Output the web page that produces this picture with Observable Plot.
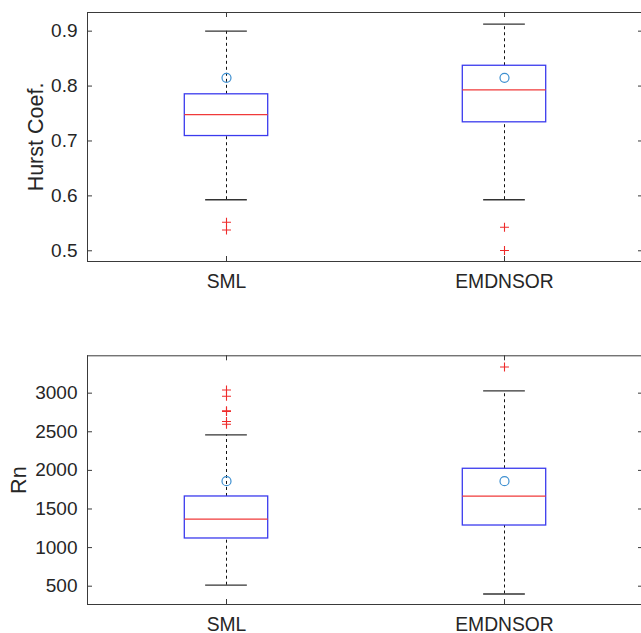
<!DOCTYPE html>
<html>
<head>
<meta charset="utf-8">
<script src="https://cdn.jsdelivr.net/npm/d3@7"></script>
<script src="https://cdn.jsdelivr.net/npm/@observablehq/plot@0.6"></script>
<style>
  html, body { margin: 0; padding: 0; background: #fff; overflow: hidden; }
  #chart { width: 641px; height: 633px; overflow: hidden; }
  #chart svg { display: block; overflow: hidden; }
</style>
</head>
<body>
<div id="chart"></div>
<script>
// ---- data ----
const categories = ["SML", "EMDNSOR"];
const positions = [1, 2];

// Hurst coefficient boxplot statistics
const hurstLowerWhisker = [0.593, 0.593];
const hurstQ1 = [0.709, 0.734];
const hurstMedian = [0.748, 0.793];
const hurstQ3 = [0.785, 0.837];
const hurstUpperWhisker = [0.900, 0.913];
const hurstMean = [0.815, 0.815];
const hurstOutliersSML = [0.552, 0.538];
const hurstOutliersEMDNSOR = [0.543, 0.5005];
const hurstTicks = [0.5, 0.6, 0.7, 0.8, 0.9];
const hurstLimits = [0.4805, 0.934];

// Rn boxplot statistics
const rnLowerWhisker = [513, 399];
const rnQ1 = [1118, 1286];
const rnMedian = [1368, 1666];
const rnQ3 = [1662, 2021];
const rnUpperWhisker = [2461, 3031];
const rnMean = [1860, 1860];
const rnOutliersSML = [3041, 2960, 2772, 2762, 2633, 2598];
const rnOutliersEMDNSOR = [3338];
const rnTicks = [500, 1000, 1500, 2000, 2500, 3000];
const rnLimits = [263, 3484];

// ---- drawing ----
const FONT = "'Liberation Sans', Arial, Helvetica, sans-serif";
const TEXT = "#262626";
const AXIS = "#3a3a3a";
const X_DOMAIN = [0.5, 2.5];
const X_RANGE = [87, 643];
const BOX_HALF = 0.15;
const CAP_HALF = 0.075;
const TICK_PX = 5;

function panel(o) {
  const rows = positions.map((p, i) => ({
    pos: p, cat: categories[i],
    lo: o.lo[i], q1: o.q1[i], med: o.med[i], q3: o.q3[i], hi: o.hi[i], mean: o.mean[i]
  }));
  const outs = [];
  o.outliers.forEach((arr, i) => arr.forEach(v => outs.push({pos: positions[i], v})));
  const innerH = o.height - o.marginTop - o.marginBottom;
  const xPerPx = (X_DOMAIN[1] - X_DOMAIN[0]) / (X_RANGE[1] - X_RANGE[0]);
  const yPerPx = (o.limits[1] - o.limits[0]) / innerH;
  const tx = TICK_PX * xPerPx, ty = TICK_PX * yPerPx;
  const [y0, y1] = o.limits;

  return Plot.plot({
    width: 641,
    height: o.height,
    marginTop: o.marginTop,
    marginBottom: o.marginBottom,
    marginLeft: 87,
    marginRight: 0,
    style: {fontFamily: FONT, fontSize: "19px", color: TEXT, background: "white"},
    x: {domain: X_DOMAIN, range: X_RANGE, axis: null},
    y: {domain: o.limits, axis: null},
    marks: [
      Plot.ruleY([y0, y1], {x1: X_DOMAIN[0], x2: X_DOMAIN[1], stroke: AXIS, strokeWidth: 1}),
      Plot.ruleX(X_DOMAIN, {y1: y0, y2: y1, stroke: AXIS, strokeWidth: 1}),
      Plot.ruleY(o.ticks, {x1: X_DOMAIN[0], x2: X_DOMAIN[0] + tx, stroke: AXIS}),
      Plot.ruleY(o.ticks, {x1: X_DOMAIN[1] - tx, x2: X_DOMAIN[1], stroke: AXIS}),
      Plot.ruleX(positions, {y1: y0, y2: y0 + ty, stroke: AXIS}),
      Plot.ruleX(positions, {y1: y1 - ty, y2: y1, stroke: AXIS}),
      Plot.text(o.ticks, {y: d => d, frameAnchor: "left", textAnchor: "end", dx: -10,
        text: o.fmt, fill: TEXT, fontSize: 19, lineAnchor: "middle"}),
      Plot.text(rows, {x: "pos", frameAnchor: "bottom", text: "cat", dy: 20.5,
        lineAnchor: "middle", fill: TEXT, fontSize: 19.3}),
      Plot.text([o.label], {frameAnchor: "left", rotate: -90, dx: o.labelDx,
        lineAnchor: "bottom", textAnchor: "middle", fill: TEXT, fontSize: 21.5}),
      Plot.ruleX(rows, {x: "pos", y1: "q3", y2: "hi", stroke: "#111", strokeDasharray: "3,3", strokeWidth: 1}),
      Plot.ruleX(rows, {x: "pos", y1: "lo", y2: "q1", stroke: "#111", strokeDasharray: "3,3", strokeWidth: 1}),
      Plot.ruleY(rows, {y: "hi", x1: d => d.pos - CAP_HALF, x2: d => d.pos + CAP_HALF, stroke: "#333", strokeWidth: 1.3}),
      Plot.ruleY(rows, {y: "lo", x1: d => d.pos - CAP_HALF, x2: d => d.pos + CAP_HALF, stroke: "#333", strokeWidth: 1.3}),
      Plot.rect(rows, {x1: d => d.pos - BOX_HALF, x2: d => d.pos + BOX_HALF, y1: "q1", y2: "q3",
        fill: "none", stroke: "#3b3bee", strokeWidth: 1.3}),
      Plot.ruleY(rows, {y: "med", x1: d => d.pos - BOX_HALF, x2: d => d.pos + BOX_HALF, stroke: "#f03a3a", strokeWidth: 1.3}),
      Plot.dot(rows, {x: "pos", y: "mean", r: 4.5, stroke: "#3d8fd0", fill: "none", strokeWidth: 1.2}),
      Plot.dot(outs, {x: "pos", y: "v", symbol: "plus", r: 3, stroke: "#ee2b2b", strokeWidth: 1.1})
    ]
  });
}

const topPanel = panel({
  height: 310, marginTop: 12, marginBottom: 49,
  limits: hurstLimits, ticks: hurstTicks, fmt: d3.format(".1f"),
  label: "Hurst Coef.", labelDx: -44.3,
  lo: hurstLowerWhisker, q1: hurstQ1, med: hurstMedian, q3: hurstQ3, hi: hurstUpperWhisker, mean: hurstMean,
  outliers: [hurstOutliersSML, hurstOutliersEMDNSOR]
});
const bottomPanel = panel({
  height: 323, marginTop: 45.3, marginBottom: 29,
  limits: rnLimits, ticks: rnTicks, fmt: d => String(d),
  label: "Rn", labelDx: -62,
  lo: rnLowerWhisker, q1: rnQ1, med: rnMedian, q3: rnQ3, hi: rnUpperWhisker, mean: rnMean,
  outliers: [rnOutliersSML, rnOutliersEMDNSOR]
});
document.getElementById("chart").append(topPanel, bottomPanel);
</script>
</body>
</html>
